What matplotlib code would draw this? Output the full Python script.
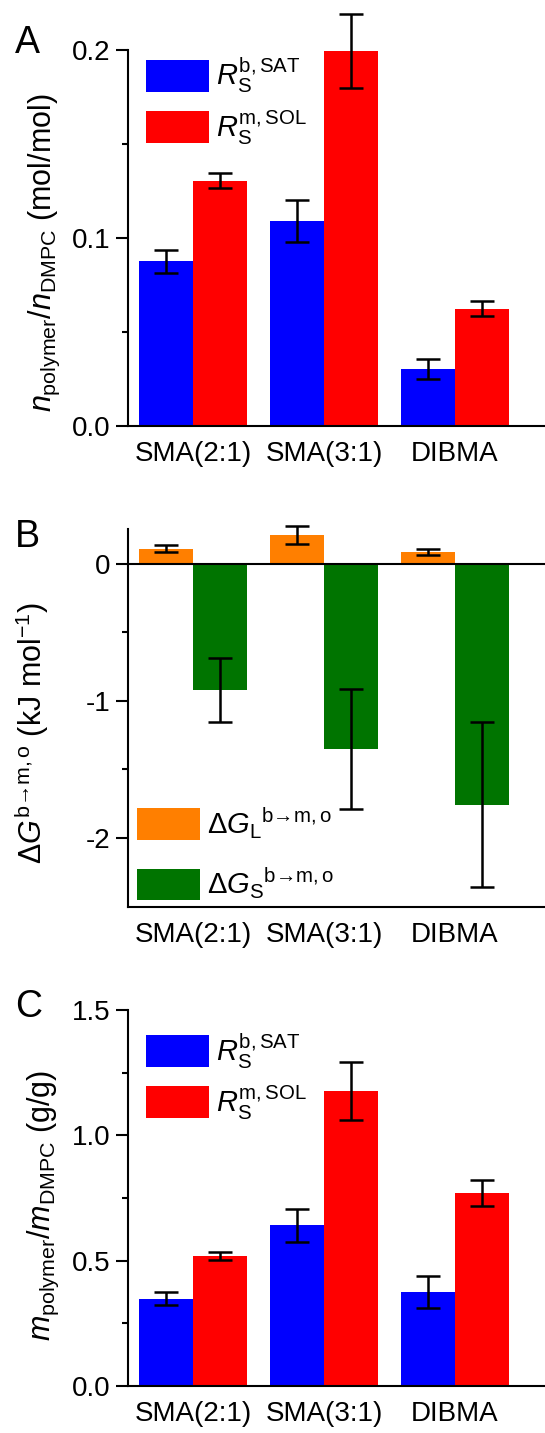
import numpy as np
import matplotlib
matplotlib.use('Agg')
from matplotlib import pyplot as plt

plt.rcParams['font.family'] = ['Liberation Sans', 'DejaVu Sans']
plt.rcParams['mathtext.fontset'] = 'custom'
plt.rcParams['mathtext.rm'] = 'Liberation Sans'
plt.rcParams['mathtext.it'] = 'Liberation Sans:italic'
plt.rcParams['mathtext.bf'] = 'Liberation Sans:bold'

categories = ['SMA(2:1)', 'SMA(3:1)', 'DIBMA']

# panel A: n_polymer / n_DMPC (mol/mol)
a_sat = [0.0876, 0.1089, 0.0305]
a_sat_err = [0.0062, 0.0112, 0.0053]
a_sol = [0.1305, 0.1996, 0.0624]
a_sol_err = [0.0040, 0.0196, 0.0040]

# panel B: dG (kJ/mol)
b_lip = [0.107, 0.207, 0.085]
b_lip_err = [0.025, 0.066, 0.024]
b_sma = [-0.922, -1.348, -1.759]
b_sma_err = [0.235, 0.437, 0.601]

# panel C: m_polymer / m_DMPC (g/g)
c_sat = [0.348, 0.641, 0.375]
c_sat_err = [0.025, 0.066, 0.063]
c_sol = [0.520, 1.177, 0.769]
c_sol_err = [0.016, 0.115, 0.051]

BLUE = '#0000FF'
RED = '#FF0000'
ORANGE = '#FF7F00'
GREEN = '#007400'

x = np.arange(len(categories))
w = 0.41

fig = plt.figure(figsize=(5.45, 14.33), dpi=100)
axA = fig.add_axes([0.2349, 0.7027, 0.7651, 0.2624])
axB = fig.add_axes([0.2349, 0.3673, 0.7651, 0.2634])
axC = fig.add_axes([0.2349, 0.0328, 0.7651, 0.2624])

ekw = dict(fmt='none', ecolor='black', elinewidth=1.8, capsize=8.5, capthick=1.8, clip_on=False, zorder=5)
arrow = '\u2192'


def style(ax):
    ax.spines['top'].set_visible(False)
    ax.spines['right'].set_visible(False)
    ax.spines['left'].set_linewidth(1.5)
    ax.spines['bottom'].set_linewidth(1.5)
    ax.set_xlim(-0.496, 2.687)
    ax.set_xticks(x)
    ax.set_xticklabels(categories)
    ax.tick_params(axis='x', length=0, pad=11, labelsize=20)
    ax.tick_params(axis='y', which='major', direction='out', length=8.5, width=1.5, labelsize=20, pad=4)
    ax.tick_params(axis='y', which='minor', direction='out', length=4.5, width=1.5)


def legend(ax, handles, labels, **kw):
    leg = ax.legend(handles, labels, frameon=False, fontsize=21, handlelength=2.15, handleheight=1.3,
                    handletextpad=0.25, borderpad=0, borderaxespad=0, **kw)
    return leg


# A
b1 = axA.bar(x - w / 2, a_sat, w, color=BLUE)
b2 = axA.bar(x + w / 2, a_sol, w, color=RED)
axA.errorbar(x - w / 2, a_sat, yerr=a_sat_err, **ekw)
axA.errorbar(x + w / 2, a_sol, yerr=a_sol_err, **ekw)
style(axA)
axA.set_ylim(0, 0.2)
axA.set_yticks([0, 0.1, 0.2])
axA.set_yticklabels(['0.0', '0.1', '0.2'])
axA.set_yticks([0.05, 0.15], minor=True)
axA.set_ylabel(r'$n_{\rm polymer}$/$n_{\rm DMPC}$ (mol/mol)', fontsize=22)
axA.yaxis.set_label_coords(-0.158, 0.46)
legend(axA, [b1, b2], [r'$R_{\rm S}^{\rm b,SAT}$', r'$R_{\rm S}^{\rm m,SOL}$'],
       loc='upper left', bbox_to_anchor=(0.043, 0.985), labelspacing=0.45)
fig.text(0.027, 0.970, 'A', fontsize=27, va='center', ha='left')

# B
o1 = axB.bar(x - w / 2, b_lip, w, color=ORANGE)
g1 = axB.bar(x + w / 2, b_sma, w, color=GREEN)
axB.errorbar(x - w / 2, b_lip, yerr=b_lip_err, **ekw)
axB.errorbar(x + w / 2, b_sma, yerr=b_sma_err, **ekw)
axB.axhline(0, color='black', lw=1.5, zorder=4)
style(axB)
axB.set_ylim(-2.5, 0.25)
axB.set_yticks([-2, -1, 0])
axB.set_yticklabels(['-2', '-1', '0'])
axB.set_yticks([-1.5, -0.5], minor=True)
axB.set_ylabel(r'$\Delta G^{\rm b' + arrow + r'm,o}$ (kJ mol$^{-1}$)', fontsize=22)
axB.yaxis.set_label_coords(-0.185, 0.46)
legend(axB, [o1, g1], [r'$\Delta G_{\rm L}{}^{\rm b' + arrow + r'm,o}$', r'$\Delta G_{\rm S}{}^{\rm b' + arrow + r'm,o}$'],
       loc='lower left', bbox_to_anchor=(0.022, 0.015), labelspacing=0.85)
fig.text(0.027, 0.625, 'B', fontsize=27, va='center', ha='left')

# C
c1 = axC.bar(x - w / 2, c_sat, w, color=BLUE)
c2 = axC.bar(x + w / 2, c_sol, w, color=RED)
axC.errorbar(x - w / 2, c_sat, yerr=c_sat_err, **ekw)
axC.errorbar(x + w / 2, c_sol, yerr=c_sol_err, **ekw)
style(axC)
axC.set_ylim(0, 1.5)
axC.set_yticks([0, 0.5, 1.0, 1.5])
axC.set_yticklabels(['0.0', '0.5', '1.0', '1.5'])
axC.set_yticks([0.25, 0.75, 1.25], minor=True)
axC.set_ylabel(r'$m_{\rm polymer}$/$m_{\rm DMPC}$ (g/g)', fontsize=22)
axC.yaxis.set_label_coords(-0.16, 0.48)
legend(axC, [c1, c2], [r'$R_{\rm S}^{\rm b,SAT}$', r'$R_{\rm S}^{\rm m,SOL}$'],
       loc='upper left', bbox_to_anchor=(0.043, 0.945), labelspacing=0.45)
fig.text(0.027, 0.297, 'C', fontsize=27, va='center', ha='left')

fig.savefig('out.png', dpi=100)
